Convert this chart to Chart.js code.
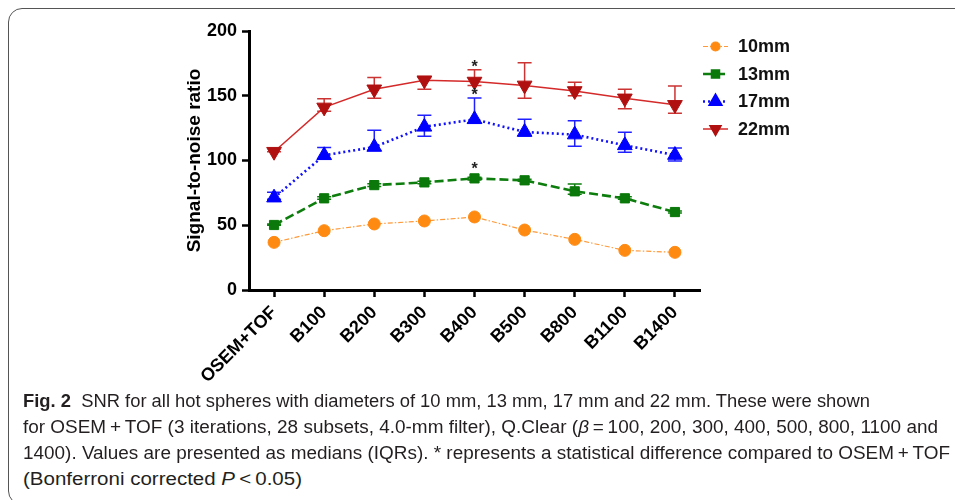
<!DOCTYPE html>
<html>
<head>
<meta charset="utf-8">
<script src="https://cdn.jsdelivr.net/npm/chart.js"></script>
<style>
  html, body { margin: 0; padding: 0; background: #fff; overflow: hidden; }
  body { width: 955px; height: 500px; position: relative; }
  #frame {
    position: absolute; left: 8px; top: 8px; width: 1000px; height: 497px;
    border: 1.5px solid #555; border-radius: 14px; box-sizing: border-box;
  }
  #wrap { position: absolute; left: 0; top: 0; width: 955px; height: 395px; }
  .cap {
    position: absolute; left: 23px; white-space: nowrap; transform-origin: 0 50%;
    font-family: 'Liberation Sans Narrow', 'Liberation Sans', sans-serif;
    font-size: 17.5px; line-height: 20px; color: #231f20;
  }
  .cap b { font-weight: bold; }
</style>
</head>
<body>
<div id="frame"></div>
<div id="wrap"><canvas id="snrChart" width="955" height="395"></canvas></div>

<div class="cap" data-w="847" style="top:391px"><b>Fig. 2</b>&nbsp; SNR for all hot spheres with diameters of 10 mm, 13 mm, 17 mm and 22 mm. These were shown</div>
<div class="cap" data-w="915" style="top:417px">for OSEM&thinsp;+&thinsp;TOF (3 iterations, 28 subsets, 4.0-mm filter), Q.Clear (<i>β</i>&thinsp;=&thinsp;100, 200, 300, 400, 500, 800, 1100 and</div>
<div class="cap" data-w="927" style="top:443px">1400). Values are presented as medians (IQRs). * represents a statistical difference compared to OSEM&thinsp;+&thinsp;TOF</div>
<div class="cap" data-w="279" style="top:469px">(Bonferroni corrected <i>P</i>&thinsp;&lt;&thinsp;0.05)</div>

<script>
const labels = ['OSEM+TOF', 'B100', 'B200', 'B300', 'B400', 'B500', 'B800', 'B1100', 'B1400'];

// medians
const snr10 = [36.8, 45.8, 51.0, 53.3, 56.4, 46.3, 39.1, 30.6, 29.1];
const snr13 = [50.2, 70.8, 81.0, 83.1, 86.2, 84.7, 76.2, 70.8, 60.2];
const snr17 = [71.3, 104.0, 110.4, 126.0, 131.8, 122.0, 120.0, 111.7, 104.2];
const snr22 = [106.8, 141.0, 155.0, 162.0, 161.0, 158.0, 153.7, 148.0, 143.0];

// IQR bounds (lower / upper)
const iqrLow13 = [50.0, 70.0, 80.0, 82.0, 85.0, 84.0, 74.0, 70.0, 59.5];
const iqrHigh13 = [51.0, 72.0, 82.0, 84.0, 87.0, 85.5, 81.8, 72.0, 61.0];
const iqrLow17 = [70.0, 101.0, 108.0, 118.7, 129.0, 119.0, 111.0, 106.3, 99.6];
const iqrHigh17 = [75.4, 110.0, 123.3, 135.0, 148.3, 131.8, 130.7, 121.8, 109.7];
const iqrLow22 = [106.8, 138.0, 148.0, 155.0, 158.0, 148.0, 150.0, 140.0, 136.4];
const iqrHigh22 = [106.8, 147.7, 164.0, 164.0, 170.0, 175.5, 160.4, 155.0, 157.5];

// index of points marked with * (significant vs OSEM+TOF)
const sig13 = [4];
const sig17 = [4];
const sig22 = [4];

const yTicks = [0, 50, 100, 150, 200];

const errorBars = {
  id: 'errorBars',
  beforeDatasetsDraw(chart) {
    const ctx = chart.ctx;
    const y = chart.scales.y;
    chart.data.datasets.forEach((ds, i) => {
      if (!ds.errLow) return;
      const meta = chart.getDatasetMeta(i);
      ctx.save();
      ctx.strokeStyle = ds.errColor;
      ctx.lineWidth = 1.5;
      meta.data.forEach((pt, j) => {
        const y1 = y.getPixelForValue(ds.errLow[j]);
        const y2 = y.getPixelForValue(ds.errHigh[j]);
        ctx.beginPath();
        ctx.moveTo(pt.x, y1); ctx.lineTo(pt.x, y2);
        ctx.moveTo(pt.x - 7, y1); ctx.lineTo(pt.x + 7, y1);
        ctx.moveTo(pt.x - 7, y2); ctx.lineTo(pt.x + 7, y2);
        ctx.stroke();
      });
      ctx.restore();
    });
  },
  afterDatasetsDraw(chart) {
    const ctx = chart.ctx;
    const y = chart.scales.y;
    ctx.save();
    ctx.fillStyle = '#222';
    ctx.font = 'bold 16px "Liberation Sans", Arial, sans-serif';
    ctx.textAlign = 'center';
    ctx.textBaseline = 'middle';
    chart.data.datasets.forEach((ds, i) => {
      if (!ds.sig) return;
      const meta = chart.getDatasetMeta(i);
      ds.sig.forEach(j => {
        const pt = meta.data[j];
        const top = Math.min(y.getPixelForValue(ds.errHigh[j]), pt.y - 7);
        ctx.fillText('*', pt.x, top - 2);
      });
    });
    ctx.restore();
  }
};

const sideLegend = {
  id: 'sideLegend',
  afterDraw(chart) {
    const ctx = chart.ctx;
    ctx.save();
    chart.data.datasets.forEach((ds, i) => {
      const cy = 46.5 + i * 27.5;
      ctx.strokeStyle = ds.borderColor;
      ctx.lineWidth = ds.borderWidth;
      ctx.setLineDash(ds.borderDash || []);
      ctx.beginPath();
      ctx.moveTo(703, cy); ctx.lineTo(728, cy);
      ctx.stroke();
      ctx.setLineDash([]);
      ctx.fillStyle = ds.pointBackgroundColor;
      ctx.strokeStyle = ds.pointBackgroundColor;
      Chart.helpers.drawPoint(ctx, {
        pointStyle: ds.pointStyle, radius: ds.pointRadius * 0.75,
        rotation: ds.pointRotation || 0, borderWidth: 1
      }, 715.5, cy);
      ctx.fillStyle = '#111';
      ctx.font = 'bold 18px "Liberation Sans", Arial, sans-serif';
      ctx.textAlign = 'left';
      ctx.textBaseline = 'middle';
      ctx.fillText(ds.label, 738, cy + 1);
    });
    ctx.restore();
  }
};

new Chart(document.getElementById('snrChart'), {
  type: 'line',
  data: {
    labels: labels,
    datasets: [
      {
        label: '10mm', data: snr10,
        borderColor: '#ff9a3a', borderWidth: 1.2, borderDash: [5, 2, 1.5, 2],
        pointStyle: 'circle', pointRadius: 6,
        pointBackgroundColor: '#ff8a12', pointBorderColor: '#ff8a12', pointBorderWidth: 1
      },
      {
        label: '13mm', data: snr13,
        borderColor: '#0d7d0d', borderWidth: 2.6, borderDash: [9, 4],
        pointStyle: 'rect', pointRadius: 6.5,
        pointBackgroundColor: '#0a780a', pointBorderColor: '#0a780a', pointBorderWidth: 1,
        errLow: iqrLow13, errHigh: iqrHigh13, errColor: '#0d7d0d', sig: sig13
      },
      {
        label: '17mm', data: snr17,
        borderColor: '#1010ff', borderWidth: 2.6, borderDash: [2, 3],
        pointStyle: 'triangle', pointRadius: 8.5,
        pointBackgroundColor: '#0000ff', pointBorderColor: '#0000ff', pointBorderWidth: 1,
        errLow: iqrLow17, errHigh: iqrHigh17, errColor: '#2020ff', sig: sig17
      },
      {
        label: '22mm', data: snr22,
        borderColor: '#d42a2a', borderWidth: 1.5,
        pointStyle: 'triangle', pointRotation: 180, pointRadius: 8.5,
        pointBackgroundColor: '#b01010', pointBorderColor: '#b01010', pointBorderWidth: 1,
        errLow: iqrLow22, errHigh: iqrHigh22, errColor: '#cc3333', sig: sig22
      }
    ]
  },
  options: {
    responsive: false,
    animation: false,
    tension: 0,
    layout: { padding: { left: 0, top: 31, right: 255, bottom: 0 } },
    plugins: { legend: { display: false }, tooltip: { enabled: false } },
    scales: {
      x: {
        type: 'category',
        offset: true,
        afterFit: s => { s.height = 105; },
        border: { display: true, color: '#000', width: 3 },
        grid: { display: true, offset: false, drawOnChartArea: false, tickLength: 7, tickWidth: 2.5, tickColor: '#000' },
        ticks: {
          color: '#000', maxRotation: 45, minRotation: 45, padding: 5, autoSkip: false,
          font: { family: '"Liberation Sans", Arial, sans-serif', size: 18, weight: 'bold' }
        }
      },
      y: {
        min: 0, max: 200,
        afterFit: s => { s.width = 249; },
        afterBuildTicks: s => { s.ticks = yTicks.map(v => ({ value: v })); },
        border: { display: true, color: '#000', width: 3 },
        grid: { display: true, drawOnChartArea: false, tickLength: 7, tickWidth: 2.5, tickColor: '#000' },
        ticks: {
          color: '#000', padding: 5,
          font: { family: '"Liberation Sans", Arial, sans-serif', size: 18, weight: 'bold' }
        },
        title: {
          display: true, text: 'Signal-to-noise ratio', color: '#000',
          padding: { top: 183, bottom: 0 },
          font: { family: '"Liberation Sans", Arial, sans-serif', size: 19, weight: 'bold' }
        }
      }
    }
  },
  plugins: [errorBars, sideLegend]
});

// squeeze caption lines to the widths they take in the figure
document.querySelectorAll('.cap').forEach(el => {
  const w = el.getBoundingClientRect().width;
  el.style.transform = 'scaleX(' + (Number(el.dataset.w) / w) + ')';
});
</script>
</body>
</html>
